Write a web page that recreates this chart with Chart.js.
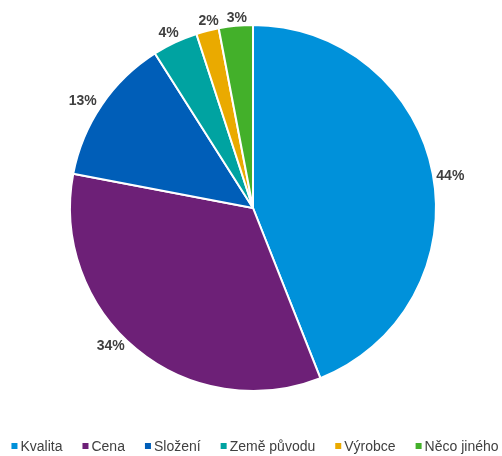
<!DOCTYPE html>
<html>
<head>
<meta charset="utf-8">
<script src="https://cdn.jsdelivr.net/npm/chart.js@4.4.1/dist/chart.umd.min.js"></script>
<style>
  html, body { margin: 0; padding: 0; background: #fff; }
  #wrap { width: 502px; height: 456px; position: relative; }
</style>
</head>
<body>
<div id="wrap"><canvas id="chart"></canvas></div>
<script>
const categories = ['Kvalita', 'Cena', 'Složení', 'Země původu', 'Výrobce', 'Něco jiného'];
const shares = [44, 34, 13, 4, 2, 3];
const colors = ['#0091DA', '#6D2077', '#005EB8', '#00A3A1', '#EAAA00', '#43B02A'];

const textColor = '#404040';
// small hand tweaks so labels sit where the original put them
const labelNudge = [[0, 5], [-15, -17], [-4, 5], [-1, 1], [4, 0], [2, 1]];

// percent labels just outside each slice
const outsideLabels = {
    id: 'outsideLabels',
    afterDatasetsDraw(chart) {
        const ctx = chart.ctx;
        const meta = chart.getDatasetMeta(0);
        ctx.save();
        ctx.font = 'bold 14px "Liberation Sans", Arial, sans-serif';
        ctx.fillStyle = textColor;
        ctx.textAlign = 'center';
        ctx.textBaseline = 'middle';
        meta.data.forEach((arc, i) => {
            const p = arc.getProps(['x', 'y', 'startAngle', 'endAngle', 'outerRadius'], true);
            const mid = (p.startAngle + p.endAngle) / 2;
            const text = shares[i] + '%';
            const w = ctx.measureText(text).width;
            const c = Math.cos(mid), s = Math.sin(mid);
            const d = p.outerRadius + 3 + Math.abs(c) * w / 2 + Math.abs(s) * 6;
            ctx.fillText(text, p.x + c * d + labelNudge[i][0], p.y + s * d + 1 + labelNudge[i][1]);
        });
        ctx.restore();
    }
};

// legend row at the bottom, small squares
const bottomLegend = {
    id: 'bottomLegend',
    afterDraw(chart) {
        const ctx = chart.ctx;
        ctx.save();
        ctx.font = '14px "Liberation Sans", Arial, sans-serif';
        ctx.textBaseline = 'middle';
        ctx.textAlign = 'left';
        const box = 6, boxGap = 3, itemGap = 20;
        const widths = categories.map(t => ctx.measureText(t).width);
        let total = 0;
        widths.forEach((w, i) => { total += box + boxGap + w + (i < widths.length - 1 ? itemGap : 0); });
        let x = 255 - total / 2;
        const y = 446;
        categories.forEach((t, i) => {
            ctx.fillStyle = colors[i];
            ctx.fillRect(x, y - box / 2, box, box);
            ctx.fillStyle = textColor;
            ctx.fillText(t, x + box + boxGap, y + 1);
            x += box + boxGap + widths[i] + itemGap;
        });
        ctx.restore();
    }
};

new Chart(document.getElementById('chart'), {
    type: 'pie',
    data: {
        labels: categories,
        datasets: [{
            data: shares,
            backgroundColor: colors,
            borderColor: '#ffffff',
            borderWidth: 2,
        }],
    },
    options: {
        responsive: true,
        maintainAspectRatio: false,
        animation: false,
        layout: {
            padding: {top: 24, bottom: 64, left: 4, right: 0}
        },
        plugins: {
            legend: {display: false},
            tooltip: {enabled: false},
        },
    },
    plugins: [outsideLabels, bottomLegend]
});
</script>
</body>
</html>
